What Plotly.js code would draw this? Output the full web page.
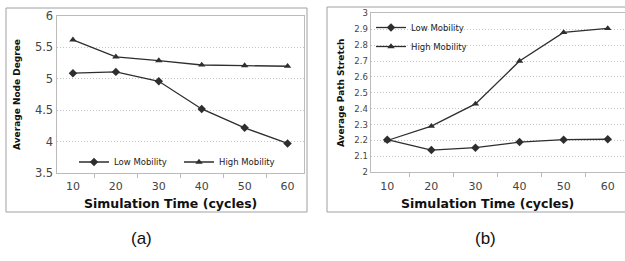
<!DOCTYPE html>
<html><head><meta charset="utf-8">
<script src="https://cdn.plot.ly/plotly-3.0.1.min.js"></script>
<style>html,body{margin:0;padding:0;background:#fff}#chart{width:625px;height:261px}</style>
</head><body><div id="chart"></div>
<script>
const cycles = ["10","20","30","40","50","60"];
const degreeLow  = [5.09, 5.11, 4.96, 4.52, 4.22, 3.97];
const degreeHigh = [5.62, 5.35, 5.29, 5.22, 5.21, 5.20];
const stretchLow  = [2.205, 2.14, 2.155, 2.19, 2.205, 2.208];
const stretchHigh = [2.20, 2.29, 2.43, 2.70, 2.88, 2.905];
const seriesNames = ["Low Mobility", "High Mobility"];
const panelLabels = ["(a)", "(b)"];
const xTitle = "Simulation Time (cycles)";
const yTitleA = "Average Node Degree";
const yTitleB = "Average Path Stretch";

const W = 625, H = 261;
const px = v => v / W, py = v => 1 - v / H;
const ink = "#2e2e2e";
const font = "DejaVu Sans, Verdana, sans-serif";

function tr(x, y, name, sym, xa, ya, leg, show) {
  return {x, y, name, type: "scatter", mode: "lines+markers", xaxis: xa, yaxis: ya,
    legend: leg, showlegend: show,
    line: {color: ink, width: 1.3},
    marker: {symbol: sym, size: 6.5, color: ink}};
}
const data = [
  tr(cycles, degreeLow, seriesNames[0], "diamond", "x", "y", "legend", true),
  tr(cycles, degreeHigh, seriesNames[1], "triangle-up", "x", "y", "legend", true),
  tr(cycles, stretchLow, seriesNames[0], "diamond", "x2", "y2", "legend2", true),
  tr(cycles, stretchHigh, seriesNames[1], "triangle-up", "x2", "y2", "legend2", true)
];

function xax(dom, anchor) {
  return {domain: dom, anchor, type: "category", tickson: "boundaries", ticks: "outside", ticklen: 4,
    tickcolor: "#bbb", showgrid: false, showline: true, linecolor: "#bbb", mirror: true,
    ticklabelstandoff: 3,
    tickfont: {family: font, size: 11, color: "#444"}, fixedrange: true};
}
function yax(dom, anchor, range, dtick, size) {
  return {domain: dom, anchor, range, dtick, showline: true, linecolor: "#bbb", mirror: true,
    gridcolor: "#c4c4c4", griddash: "1px,2px", gridwidth: 1, zeroline: false, ticks: "",
    tickfont: {family: font, size, color: "#444"}, fixedrange: true};
}
const titleFont = {family: font, size: 12.5, color: "#111", weight: "bold"};
const labelFont = {family: "Liberation Sans, Arial, sans-serif", size: 17, color: "#111"};
function note(text, x, y, f) {
  return {text, xref: "paper", yref: "paper", x: px(x), y: py(y), xanchor: "center", yanchor: "middle",
    showarrow: false, font: f};
}
const layout = {
  width: W, height: H, margin: {l: 0, r: 0, t: 0, b: 0},
  paper_bgcolor: "#fff", plot_bgcolor: "#fff",
  xaxis: xax([px(56.5), px(304)], "y"),
  xaxis2: xax([px(370.5), px(624.5)], "y2"),
  yaxis: Object.assign(yax([py(173), py(16)], "x", [3.5, 6], 0.5, 11.5),
    {title: {text: yTitleA, font: {family: font, size: 9, color: "#111", weight: "bold"}, standoff: 12}}),
  yaxis2: Object.assign(yax([py(172.3), py(13.3)], "x2", [2, 3], 0.1, 8.5),
    {title: {text: yTitleB, font: {family: font, size: 9, color: "#111", weight: "bold"}, standoff: 8}}),
  legend: {orientation: "h", x: px(74), y: py(162), xanchor: "left", yanchor: "middle",
    bgcolor: "rgba(0,0,0,0)", font: {family: font, size: 8.5, color: "#222"}, itemwidth: 30,
    entrywidth: 60},
  legend2: {orientation: "v", x: px(371), y: py(13), xanchor: "left", yanchor: "top",
    bgcolor: "rgba(0,0,0,0)", font: {family: font, size: 8.5, color: "#222"}, itemwidth: 30,
    tracegroupgap: 0},
  shapes: [
    {type: "rect", xref: "paper", yref: "paper", x0: px(6), x1: px(307), y0: py(212), y1: py(8),
     line: {color: "#a0a0a0", width: 1}},
    {type: "rect", xref: "paper", yref: "paper", x0: px(327), x1: px(640), y0: py(212), y1: py(7),
     line: {color: "#a0a0a0", width: 1}}
  ],
  annotations: [
    note(xTitle, 170, 203, titleFont),
    note(xTitle, 487, 203, titleFont),
    note(panelLabels[0], 141, 238, labelFont),
    note(panelLabels[1], 485, 238, labelFont)
  ]
};
Plotly.newPlot("chart", data, layout, {displayModeBar: false, staticPlot: true});
</script></body></html>
